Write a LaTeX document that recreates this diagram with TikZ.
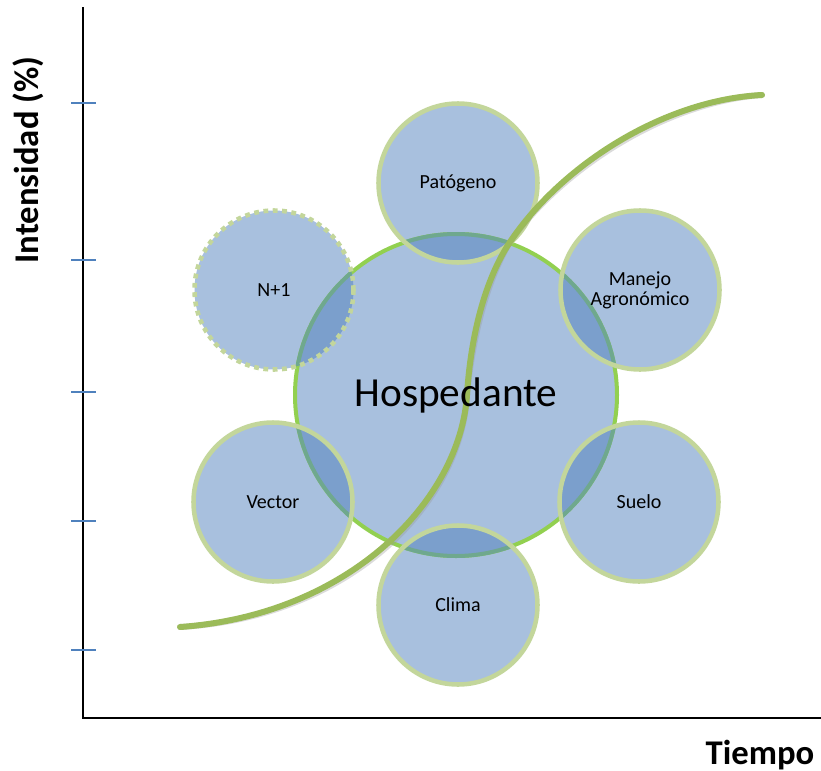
\documentclass[tikz,border=0pt]{standalone}
\usepackage{fontspec}
\setmainfont{Carlito}
\definecolor{cfill}{HTML}{A8C0DE}
\definecolor{covl}{HTML}{7B9FCC}
\definecolor{cmain}{HTML}{92D050}
\definecolor{covb}{HTML}{6FA88E}
\definecolor{csat}{HTML}{C3D69B}
\definecolor{ccurve}{HTML}{9BBB59}
\definecolor{ctick}{HTML}{4F81BD}
\tikzset{
  satfill/.style={circle, fill=cfill, minimum size=119.25pt, inner sep=0pt},
  mainfill/.style={circle, fill=cfill, minimum size=241.5pt, inner sep=0pt},
  satborder/.style={draw=csat, line width=3.4pt},
  lbl/.style={font=\fontsize{15pt}{18pt}\selectfont, align=center, text=black},
  axis/.style={line width=1.5pt, black},
  tick/.style={line width=1.5pt, ctick},
  curve/.style={line width=4.5pt, ccurve, line cap=round},
}
\begin{document}
\begin{tikzpicture}[x=0.75pt,y=-0.75pt]
\useasboundingbox (0,0) rectangle (821,771);
% fills
\node[mainfill] (host) at (456,395) {};
\node[satfill] (pat) at (458,183) {};
\node[satfill] (np1) at (274,290) {};
\node[satfill] (man) at (640,290) {};
\node[satfill] (vec) at (273,502) {};
\node[satfill] (sue) at (639,502) {};
\node[satfill] (cli) at (458,605) {};
% main border
\draw[cmain, line width=3pt] (host.center) circle[radius=120.75pt];
% overlaps
\foreach \s in {pat,np1,man,vec,sue,cli}{
  \begin{scope}
    \clip (\s.center) circle[radius=59.625pt];
    \fill[covl] (host.center) circle[radius=120.75pt];
    \draw[covb, line width=3pt] (host.center) circle[radius=120.75pt];
  \end{scope}
}
% satellite borders
\foreach \s in {pat,man,vec,sue,cli}{
  \draw[satborder] (\s.center) circle[radius=59.625pt];
}
\draw[satborder, dash pattern=on 3.6pt off 3.4pt] (np1.center) circle[radius=59.625pt];
% axes
\coordinate (ytop) at (83,7);
\coordinate (orig) at (83,718);
\coordinate (xend) at (821,718);
\draw[axis] (ytop) -- (orig) -- (xend);
\foreach \ty in {103,260,392,521,650}{
  \draw[tick] (71,\ty) -- (96,\ty);
}
% curve with shadow
\coordinate (cs) at (180,627);
\coordinate (cm) at (467,395);
\coordinate (cq) at (510,242);
\coordinate (ce) at (762,95);
\begin{scope}[shift={(1.5,2.5)}]
\draw[line width=4.5pt, black!40, opacity=0.35, line cap=round]
  (cs) .. controls (350,615) and (460,500) .. (cm)
       .. controls (470,345) and (482,284) .. (cq)
       .. controls (560,167) and (662,100) .. (ce);
\end{scope}
\draw[curve]
  (cs) .. controls (350,615) and (460,500) .. (cm)
       .. controls (470,345) and (482,284) .. (cq)
       .. controls (560,167) and (662,100) .. (ce);
% labels
\node[lbl] (patl) at (pat) {Patógeno};
\node[lbl] (np1l) at (np1) {N+1};
\node[lbl] (manl) at (man) {Manejo\\[-3pt]Agronómico};
\node[lbl] (vecl) at (vec) {Vector};
\node[lbl] (suel) at (sue) {Suelo};
\node[lbl] (clil) at (cli) {Clima};
\node[font=\fontsize{31pt}{36pt}\selectfont] (hostl) at (host) {Hospedante};
\node[font=\fontsize{26pt}{30pt}\selectfont\bfseries, anchor=base east] (tl) at (819,764) {Tiempo};
\node[font=\fontsize{26pt}{30pt}\selectfont\bfseries, rotate=90] (il) at (28,160) {Intensidad (\%)};
\end{tikzpicture}
\end{document}
